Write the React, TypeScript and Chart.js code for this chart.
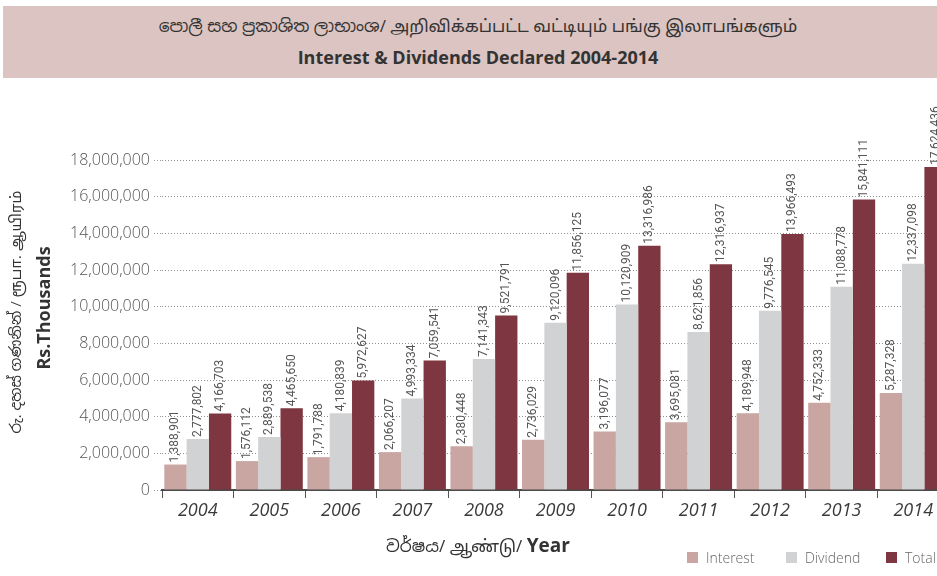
import React, { useEffect, useRef } from "react";
import { Chart, registerables } from "chart.js";

Chart.register(...registerables);

const years = ["2004", "2005", "2006", "2007", "2008", "2009", "2010", "2011", "2012", "2013", "2014"];
const interest = [1388901, 1576112, 1791788, 2066207, 2380448, 2736029, 3196077, 3695081, 4189948, 4752333, 5287328];
const dividend = [2777802, 2889538, 4180839, 4993334, 7141343, 9120096, 10120909, 8621856, 9776545, 11088778, 12337098];
const total = [4166703, 4465650, 5972627, 7059541, 9521791, 11856125, 13316986, 12316937, 13966493, 15841111, 17624436];
const seriesNames = ["Interest", "Dividend", "Total"];
const seriesColors = ["#c9a6a2", "#d1d2d4", "#7e3640"];

const titleLocal = "පොලී සහ ප්‍රකාශිත ලාභාංශ/ அறிவிக்கப்பட்ட வட்டியும் பங்கு இலாபங்களும்";
const titleEn = "Interest & Dividends Declared 2004-2014";
const yTitleLocal = "රු. දහස් ගණනින් / ரூபா. ஆயிரம்";
const yTitleEn = "Rs.Thousands";
const xTitleLocal = "වර්ෂය/ ஆண்டு/ ";
const xTitleEn = "Year";

const fmt = (v: number) => v.toLocaleString("en-US");

const labelPlugin = {
  id: "barLabels",
  afterDatasetsDraw(chart: any) {
    const ctx = chart.ctx;
    ctx.save();
    ctx.font = "12px Roboto, 'Open Sans', sans-serif";
    ctx.fillStyle = "#555";
    ctx.textAlign = "left";
    ctx.textBaseline = "middle";
    chart.data.datasets.forEach((ds: any, i: number) => {
      const meta = chart.getDatasetMeta(i);
      meta.data.forEach((bar: any, j: number) => {
        ctx.save();
        ctx.translate(bar.x, bar.y - 2);
        ctx.rotate(-Math.PI / 2);
        ctx.fillText(fmt(ds.data[j]), 0, 0);
        ctx.restore();
      });
    });
    ctx.restore();
  },
};

export default function App() {
  const ref = useRef<HTMLCanvasElement>(null);
  useEffect(() => {
    const chart = new Chart(ref.current!, {
      type: "bar",
      data: {
        labels: years,
        datasets: [interest, dividend, total].map((d, i) => ({
          label: seriesNames[i],
          data: d,
          backgroundColor: seriesColors[i],
          borderWidth: 0,
          barPercentage: 1,
          categoryPercentage: 0.936,
        })),
      },
      options: {
        responsive: false,
        animation: false,
        layout: { padding: { left: 0, top: 160, right: 3, bottom: 46 } },
        plugins: { legend: { display: false }, tooltip: { enabled: false }, title: { display: false } },
        scales: {
          x: {
            grid: { display: true, drawOnChartArea: false, offset: true, tickLength: 8, tickColor: "#555", tickWidth: 1 },
            border: { display: true, color: "#4a4a4a", width: 2 },
            ticks: { color: "#3a3a3a", font: { family: "'Open Sans', sans-serif", size: 18, style: "italic" }, padding: 2 },
            afterFit: (s: any) => { s.height = 40; },
          },
          y: {
            min: 0,
            max: 18000000,
            grid: { color: "#8f8f8f", lineWidth: 1, tickLength: 8, tickBorderDash: [1, 2], tickColor: "#9a9a9a" },
            border: { display: false, dash: [1, 2] },
            ticks: {
              stepSize: 2000000,
              color: "#555",
              padding: 4,
              font: { family: "'Open Sans', sans-serif", size: 16, weight: "300" as any },
              callback: (v: any) => fmt(Number(v)),
            },
            afterFit: (s: any) => { s.width = 162; },
          },
        },
      },
      plugins: [labelPlugin],
    });
    return () => chart.destroy();
  }, []);

  const font = "'Open Sans', 'Noto Sans', 'Noto Sans Sinhala', 'Noto Sans Tamil', sans-serif";
  return (
    <div style={{ position: "fixed", left: 0, top: 0, width: 937, height: 576, overflow: "hidden", background: "#fff", fontFamily: font }}>
      <canvas ref={ref} width={952} height={576} style={{ position: "absolute", left: 0, top: 0, display: "block" }} />
      <div style={{ position: "absolute", left: 3, top: 6, width: 934, height: 72, background: "#dbc4c1" }}>
        <div style={{ position: "absolute", left: 0, width: 950, top: 8, textAlign: "center", fontSize: 17, lineHeight: "24px", color: "#333", whiteSpace: "nowrap" }}>{titleLocal}</div>
        <div style={{ position: "absolute", left: 0, width: 950, top: 38, textAlign: "center", fontSize: 18, lineHeight: "26px", fontWeight: 700, color: "#333", whiteSpace: "nowrap" }}>{titleEn}</div>
      </div>
      <div style={{ position: "absolute", left: 15 - 150, top: 312 - 12, width: 300, height: 24, lineHeight: "24px", textAlign: "center", transform: "rotate(-90deg)", fontSize: 15, color: "#333", whiteSpace: "nowrap" }}>{yTitleLocal}</div>
      <div style={{ position: "absolute", left: 43 - 150, top: 308 - 13, width: 300, height: 26, lineHeight: "26px", textAlign: "center", transform: "rotate(-90deg)", fontSize: 18, fontWeight: 700, color: "#333", whiteSpace: "nowrap" }}>{yTitleEn}</div>
      <div style={{ position: "absolute", left: 328, width: 300, top: 532, lineHeight: "26px", textAlign: "center", color: "#333", whiteSpace: "nowrap" }}>
        <span style={{ fontSize: 17 }}>{xTitleLocal}</span>
        <span style={{ fontSize: 19, fontWeight: 700 }}>{xTitleEn}</span>
      </div>
      {seriesNames.map((n, i) => {
        const xs = [687, 786, 886];
        return (
          <div key={n} style={{ position: "absolute", left: xs[i], top: 546, height: 22, display: "flex", alignItems: "center", whiteSpace: "nowrap" }}>
            <span style={{ display: "inline-block", width: 11, height: 11, background: seriesColors[i], marginRight: 8 }} />
            <span style={{ fontSize: 14, fontWeight: 300, color: "#666" }}>{n}</span>
          </div>
        );
      })}
    </div>
  );
}
